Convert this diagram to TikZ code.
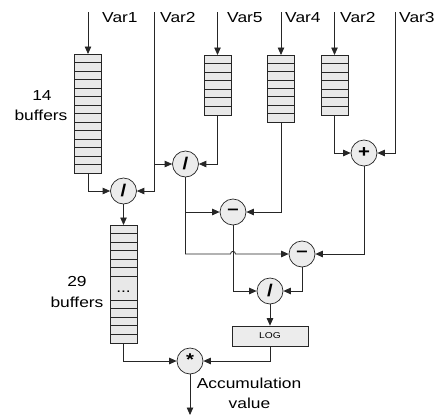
\documentclass[tikz,border=0pt]{standalone}
\usepackage{fontspec}
\setmainfont{Liberation Sans}[FakeStretch=1.2]
\usetikzlibrary{arrows.meta,calc}
\newcommand\mkbuf[5]{% name, x, ytop, ybot, ncells
  \node[buf,minimum height={#4-#3},anchor=north] (#1) at (#2,#3) {};
  \foreach \k in {1,...,\numexpr#5-1\relax}{
    \draw[cell] ({#2-13.5},{#3+\k*(#4-#3)/#5}) -- ++(27,0);
  }
}
\begin{document}
\begin{tikzpicture}[x=1pt,y=-1pt,
  line/.style={draw=black!85,line width=0.8pt},
  arr/.style={line,-{Triangle[length=7.5pt,width=6.5pt]}},
  op/.style={circle,draw=black!85,line width=0.7pt,fill=gray!15,minimum size=26pt,inner sep=0pt,font=\fontsize{17}{17}\selectfont\bfseries},
  buf/.style={draw=black!85,line width=0.8pt,fill=gray!18,minimum width=27pt,inner sep=0pt},
  cell/.style={draw=black!85,line width=0.8pt},
  lbl/.style={font=\fontsize{14.5}{17}\selectfont,inner sep=0pt},
]
\useasboundingbox (0,0) rectangle (439,418);

% buffers
\mkbuf{b1}{88}{54}{173}{14}
\mkbuf{b5}{217.5}{55}{115}{7}
\mkbuf{b4}{281}{55}{122}{8}
\mkbuf{b2}{334.5}{55}{115}{7}
\node[buf,minimum height=118,anchor=north] (bb) at (123.5,225) {};
\foreach \k in {1,...,6}{\draw[cell] (110,{225+\k*8.5}) -- ++(27,0);}
\foreach \k in {0,...,4}{\draw[cell] (110,{300+\k*8.6}) -- ++(27,0);}
\node[lbl,anchor=base] (dots) at (123.5,292) {...};

% operators
\node[op] (div1) at (123.5,191) {/};
\node[op] (div2) at (185.5,164) {/};
\node[op] (plus) at (364,153) {+};
\node[op] (m1) at (233,212) {–};
\node[op] (m2) at (302,254) {–};
\node[op] (div3) at (270,291) {/};
\node[op] (star) at (190,361) {\raisebox{3pt}{*}};
\node[draw=black!85,line width=0.7pt,fill=gray!15,minimum width=76pt,minimum height=20pt,inner sep=0pt,font=\fontsize{8.5}{9}\selectfont] (log) at (270,336) {LOG};

% inputs
\coordinate (t1) at (88,12);
\coordinate (t2a) at (154,12);
\coordinate (t5) at (217.5,12);
\coordinate (t4) at (281,12);
\coordinate (t2b) at (334.5,12);
\coordinate (t3) at (395,12);
\coordinate (out) at (190,415);

\node[lbl,anchor=base west] (l1) at (102,22) {Var1};
\node[lbl,anchor=base west] (l2a) at (160,22) {Var2};
\node[lbl,anchor=base west] (l5) at (227,22) {Var5};
\node[lbl,anchor=base west] (l4) at (285,22) {Var4};
\node[lbl,anchor=base west] (l2b) at (340,22) {Var2};
\node[lbl,anchor=base west] (l3) at (399,22) {Var3};

\node[lbl,anchor=base] (n14) at (42,100) {14};
\node[lbl,anchor=base] (n14b) at (41,120) {buffers};
\node[lbl,anchor=base] (n29) at (77,286) {29};
\node[lbl,anchor=base] (n29b) at (77,307) {buffers};
\node[lbl,anchor=base] (acc) at (249,388) {Accumulation};
\node[lbl,anchor=base] (val) at (249.5,408) {value};

% connectors
\draw[arr] (t1) -- (b1.north);
\draw[arr] (t5) -- (b5.north);
\draw[arr] (t4) -- (b4.north);
\draw[arr] (t2b) -- (b2.north);
\draw[arr] (b1.south) |- (div1.west);
\draw[arr] (t2a) |- (div1.east);
\draw[arr] (t2a |- div2.west) -- (div2.west);
\draw[arr] (b5.south) |- (div2.east);
\draw[arr] (div1.south) -- (bb.north);
\draw[arr] (div2.south) |- (m1.west);
\draw[arr] (b4.south) |- (m1.east);
\draw[arr] (b2.south) |- (plus.west);
\draw[arr] (t3) |- (plus.east);
\draw[arr] (div2.south) -- (div2.south |- m2.west)
  -- ($(m1.south |- m2.west)+(-2.5,0)$)
  .. controls ($(m1.south |- m2.west)+(-2.5,-3.5)$) and ($(m1.south |- m2.west)+(2.5,-3.5)$) ..
  ($(m1.south |- m2.west)+(2.5,0)$) -- (m2.west);
\draw[arr] (plus.south) |- (m2.east);
\draw[arr] (m1.south) |- (div3.west);
\draw[arr] (m2.south) |- (div3.east);
\draw[arr] (div3.south) -- (log.north);
\draw[arr] (log.south) |- (star.east);
\draw[arr] (bb.south) |- (star.west);
\draw[arr] (star.south) -- (out);
\end{tikzpicture}
\end{document}
